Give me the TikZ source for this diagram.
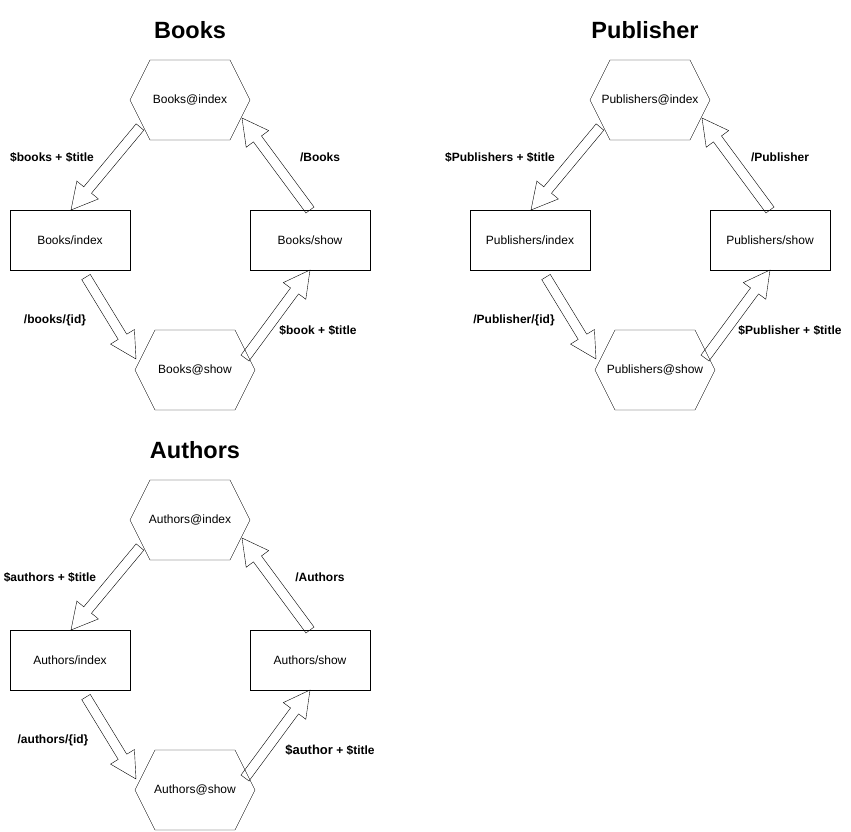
\documentclass[tikz,border=0pt]{standalone}
\usepackage{fontspec}
\setmainfont{Liberation Sans}
\usetikzlibrary{calc}
% block arrow from tail #1 to tip #2
\newcommand{\blockarrow}[2]{%
  \path (#1) coordinate (arT) (#2) coordinate (arH) ($(arH)!26pt!(arT)$) coordinate (arB);
  \draw[line join=miter] ($(arT)!5pt!90:(arH)$) -- ($(arB)!5pt!-90:(arT)$) -- ($(arB)!14pt!-90:(arT)$)
    -- (arH) -- ($(arB)!14pt!90:(arT)$) -- ($(arB)!5pt!90:(arT)$) -- ($(arT)!5pt!-90:(arH)$) -- cycle;}

\begin{document}
\begin{tikzpicture}[x=1pt,y=-1pt,
  hexa/.style={minimum width=120pt,minimum height=80pt,inner sep=0pt,outer sep=0pt,font=\fontsize{12}{14}\selectfont},
  page/.style={draw,minimum width=120pt,minimum height=60pt,inner sep=0pt,outer sep=0pt,font=\fontsize{12}{14}\selectfont},
  ttl/.style={font=\fontsize{23.5}{28}\selectfont\bfseries},
  lbl/.style={font=\fontsize{12}{14}\selectfont\bfseries,inner sep=0pt}]
\useasboundingbox (0,0) rectangle (851,831);
% Books
\node[ttl] (bkT) at (190,30) {Books};
\node[hexa] (bkIdx) at (190,100) {Books@index};
\node[page] (bkList) at (70,240) {Books/index};
\node[page] (bkShow) at (310,240) {Books/show};
\node[hexa] (bkDet) at (195,370) {Books@show};
\node[lbl] (bkL1) at (52,157) {\$books + \$title};
\node[lbl] (bkL2) at (320,157) {/Books};
\node[lbl] (bkL3) at (55,320) {/books/\{id\}};
\node[lbl] (bkL4) at (318,330) {\$book + \$title};
% Publisher
\node[ttl] (pbT) at (645,30) {Publisher};
\node[hexa] (pbIdx) at (650,100) {Publishers@index};
\node[page] (pbList) at (530,240) {Publishers/index};
\node[page] (pbShow) at (770,240) {Publishers/show};
\node[hexa] (pbDet) at (655,370) {Publishers@show};
\node[lbl] (pbL1) at (500,157) {\$Publishers + \$title};
\node[lbl] (pbL2) at (780,157) {/Publisher};
\node[lbl] (pbL3) at (514,320) {/Publisher/\{id\}};
\node[lbl] (pbL4) at (790,330) {\$Publisher + \$title};
% Authors
\node[ttl] (auT) at (195,450) {Authors};
\node[hexa] (auIdx) at (190,520) {Authors@index};
\node[page] (auList) at (70,660) {Authors/index};
\node[page] (auShow) at (310,660) {Authors/show};
\node[hexa] (auDet) at (195,790) {Authors@show};
\node[lbl] (auL1) at (50,577) {\$authors + \$title};
\node[lbl] (auL2) at (320,577) {/Authors};
\node[lbl] (auL3) at (53,740) {/authors/\{id\}};
\node[lbl] (auL4) at (330,750) {{\fontsize{13}{15}\selectfont\$author} + \$title};
% hexagon outlines
\foreach \h in {bkIdx,bkDet,pbIdx,pbDet,auIdx,auDet}
  \draw ($(\h.north west)+(20,0)$) -- ($(\h.north east)+(-20,0)$) -- (\h.east)
    -- ($(\h.south east)+(-20,0)$) -- ($(\h.south west)+(20,0)$) -- (\h.west) -- cycle;
% arrows
\foreach \g in {bk,pb,au}{
  \blockarrow{$(\g Idx)+(-50,27)$}{$(\g List.north)+(1,0)$}
  \blockarrow{\g Show.north}{$(\g Idx)+(52,18)$}
  \blockarrow{$(\g List.south)+(16,7)$}{$(\g Det)+(-59,-11)$}
  \blockarrow{$(\g Det)+(50,-12)$}{\g Show.south}
}
\end{tikzpicture}
\end{document}
